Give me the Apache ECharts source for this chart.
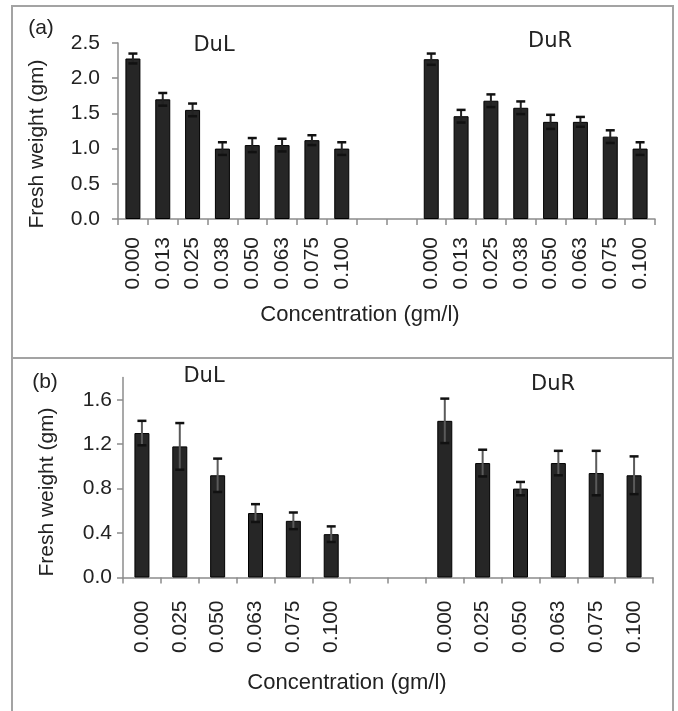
<!DOCTYPE html>
<html>
<head>
<meta charset="utf-8">
<script src="https://cdn.jsdelivr.net/npm/echarts@6/dist/echarts.min.js"></script>
<style>
html,body{margin:0;padding:0;background:#fff;}
#chart{width:678px;height:711px;}
</style>
</head>
<body>
<div id="chart"></div>
<script>
// ---------- data ----------
// Panel (a)
const concA = ['0.000','0.013','0.025','0.038','0.050','0.063','0.075','0.100'];
const dulA = [2.28, 1.70, 1.55, 1.00, 1.05, 1.05, 1.12, 1.00];
const dulAErr = [0.07, 0.09, 0.09, 0.09, 0.10, 0.09, 0.07, 0.09];
const durA = [2.27, 1.46, 1.68, 1.58, 1.38, 1.38, 1.17, 1.00];
const durAErr = [0.08, 0.09, 0.09, 0.09, 0.10, 0.07, 0.09, 0.09];
// Panel (b)
const concB = ['0.000','0.025','0.050','0.063','0.075','0.100'];
const dulB = [1.30, 1.18, 0.92, 0.58, 0.51, 0.39];
const dulBErr = [0.11, 0.21, 0.15, 0.08, 0.075, 0.07];
const durB = [1.41, 1.03, 0.80, 1.03, 0.94, 0.92];
const durBErr = [0.20, 0.12, 0.06, 0.11, 0.20, 0.17];
const gapCats = ['', ''];
const yTicksA = [0, 0.5, 1.0, 1.5, 2.0, 2.5];
const yTicksB = [0, 0.4, 0.8, 1.2, 1.6];

// ---------- build ----------
function cats(conc){ return conc.concat(gapCats, conc); }
function vals(l, r){ return l.concat(gapCats.map(()=>'-'), r); }
function errData(l, le, r, re){
  const out = [];
  l.forEach((v,i)=>out.push([i, v, le[i]]));
  r.forEach((v,i)=>out.push([l.length + gapCats.length + i, v, re[i]]));
  return out;
}
const txt = '#222';
const axisCol = '#8c8c8c';
const FONT = 'Liberation Sans, Arial, sans-serif';

function xAxisCfg(gridIndex, data, margin){
  return {
    type:'category', gridIndex, data, boundaryGap:true,
    axisLine:{lineStyle:{color:axisCol, width:1.5}},
    axisTick:{show:true, interval:0, length:6, lineStyle:{color:axisCol, width:1.5}},
    axisLabel:{interval:0, rotate:90, margin, color:txt, fontSize:21, fontFamily:FONT}
  };
}
function yAxisCfg(gridIndex, max, interval, ticks, margin){
  return {
    type:'value', gridIndex, min:0, max, interval,
    splitLine:{show:false},
    axisLine:{show:true, lineStyle:{color:axisCol, width:1.5}},
    axisTick:{show:true, length:6, lineStyle:{color:axisCol, width:1.5}, customValues:ticks},
    axisLabel:{margin, color:txt, fontSize:21, fontFamily:FONT, customValues:ticks,
      formatter:(v)=>Number(v).toFixed(1)}
  };
}
function errSeries(xi, yi, data, lineCol){
  return {
    type:'custom', xAxisIndex:xi, yAxisIndex:yi, data, z:5,
    encode:{x:0, y:1},
    renderItem:function(params, api){
      const x = api.value(0), v = api.value(1), e = api.value(2);
      const top = api.coord([x, v + e]);
      const bot = api.coord([x, v - e]);
      const hw = 4.5;
      return {type:'group', children:[
        {type:'line', shape:{x1:top[0], y1:top[1], x2:bot[0], y2:bot[1]}, style:{stroke:lineCol, lineWidth:2}},
        {type:'line', shape:{x1:top[0]-hw, y1:top[1], x2:top[0]+hw, y2:top[1]}, style:{stroke:'#111', lineWidth:2.5}},
        {type:'line', shape:{x1:bot[0]-hw, y1:bot[1], x2:bot[0]+hw, y2:bot[1]}, style:{stroke:'#111', lineWidth:2.5}}
      ]};
    }
  };
}
function barSeries(xi, yi, data){
  return {
    type:'bar', xAxisIndex:xi, yAxisIndex:yi, data, barWidth:15,
    itemStyle:{color:'#262626', borderColor:'#000', borderWidth:1},
    silent:true
  };
}
function label(text, x, y, size, family, rot){
  return {type:'text', x, y, rotation:rot||0,
    style:{text, fill:txt, font: size + 'px ' + (family||FONT), align:'center', verticalAlign:'middle'}};
}

const border = '#a3a3a3';
const DU = 'DejaVu Sans, sans-serif';
const option = {
  animation:false,
  backgroundColor:'#fff',
  grid:[
    {left:118, top:43, width:537, height:176},
    {left:123, top:377.5, width:530, height:200}
  ],
  xAxis:[ xAxisCfg(0, cats(concA), 18), xAxisCfg(1, cats(concB), 23) ],
  yAxis:[ yAxisCfg(0, 2.5, 0.5, yTicksA, 18), yAxisCfg(1, 1.8, 0.4, yTicksB, 11) ],
  series:[
    barSeries(0, 0, vals(dulA, durA)),
    errSeries(0, 0, errData(dulA, dulAErr, durA, durAErr), '#222'),
    barSeries(1, 1, vals(dulB, durB)),
    errSeries(1, 1, errData(dulB, dulBErr, durB, durBErr), '#5a5a5a')
  ],
  graphic:[
    {type:'rect', shape:{x:12, y:6, width:661, height:352}, style:{fill:'none', stroke:border, lineWidth:2}},
    {type:'polyline', shape:{points:[[12,358],[12,712]]}, style:{stroke:border, lineWidth:2}},
    {type:'polyline', shape:{points:[[673,358],[673,712]]}, style:{stroke:border, lineWidth:2}},
    label('(a)', 41, 28, 21),
    label('(b)', 45, 382, 21),
    label('DuL', 214, 46, 21, DU),
    label('DuR', 550, 42, 21, DU),
    label('DuL', 204, 377, 21, DU),
    label('DuR', 553, 385, 21, DU),
    label('Fresh weight (gm)', 37, 144, 21, null, Math.PI/2),
    label('Fresh weight (gm)', 47, 492, 21, null, Math.PI/2),
    label('Concentration (gm/l)', 360, 315, 22),
    label('Concentration (gm/l)', 347, 683, 22)
  ]
};
const chart = echarts.init(document.getElementById('chart'), null, {renderer:'canvas'});
chart.setOption(option);
</script>
</body>
</html>
